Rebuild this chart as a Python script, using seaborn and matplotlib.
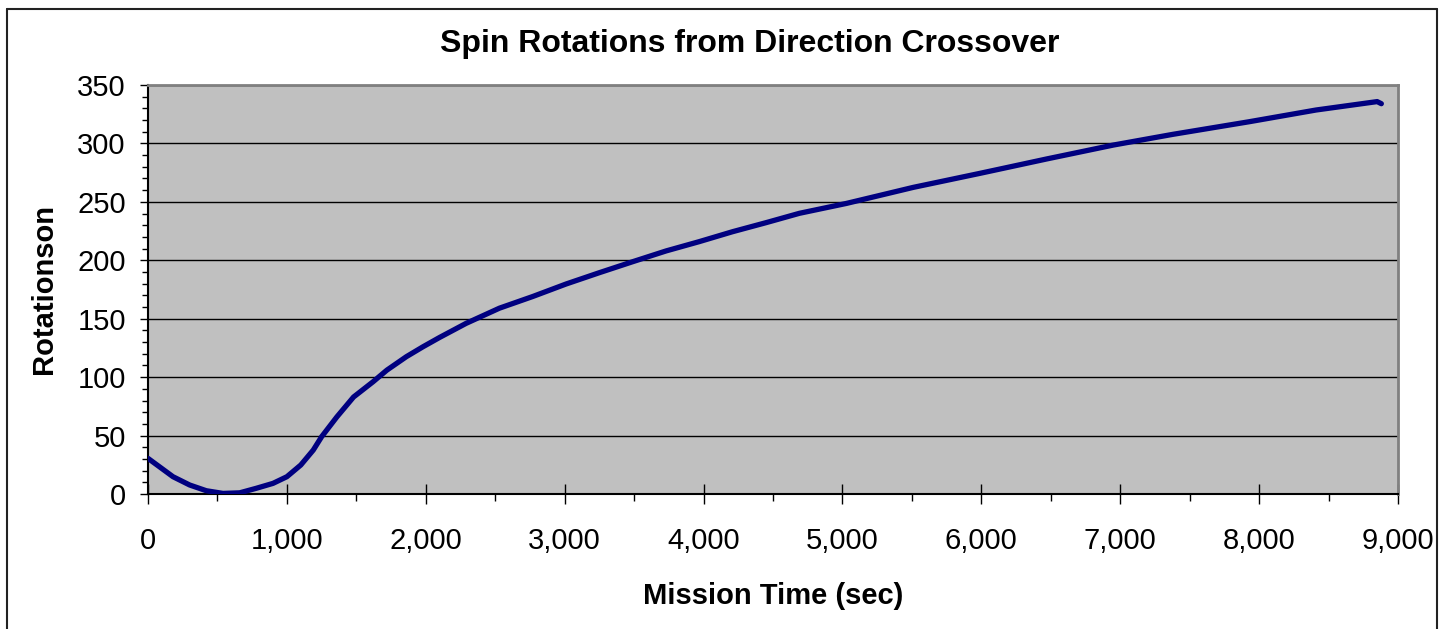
import matplotlib
matplotlib.use("Agg")
import matplotlib.pyplot as plt
from matplotlib.lines import Line2D
from matplotlib.ticker import MultipleLocator, FuncFormatter
import seaborn as sns
import pandas as pd

mission_time = [0, 180, 300, 420, 540, 660, 780, 900, 1000, 1100, 1190, 1250,
                1360, 1480, 1620, 1720, 1860, 1980, 2100, 2290, 2530, 2770,
                3010, 3250, 3490, 3730, 3970, 4210, 4450, 4690, 5030, 5510,
                5990, 6470, 6950, 7380, 7930, 8410, 8850, 8880]
rotations = [30.5, 14.8, 7.7, 2.8, 0.5, 1.0, 4.9, 9.1, 14.8, 24.8, 37.6, 49,
             66, 83, 96, 106, 117.5, 126, 134, 146, 159, 169,
             179.7, 189.4, 198.8, 208, 216, 224.5, 232.2, 240.2, 248.7, 262.4,
             274.4, 286.7, 298.6, 307.8, 318.6, 328.6, 335.8, 334.0]

title = "Spin Rotations from Direction Crossover"
xlabel = "Mission Time (sec)"
ylabel = "Rotationson"

df = pd.DataFrame({"t": mission_time, "r": rotations})

sns.set_theme(style="white")
plt.rcParams["font.family"] = ["Liberation Sans", "DejaVu Sans"]
plt.rcParams["text.color"] = "black"
plt.rcParams["axes.labelcolor"] = "black"
plt.rcParams["xtick.color"] = "black"
plt.rcParams["ytick.color"] = "black"

fig = plt.figure(figsize=(14.4, 6.29), dpi=100)
ax = fig.add_axes([148/1440, 1-494/629, 1250/1440, 409/629])
ax.set_facecolor("#C0C0C0")

sns.lineplot(data=df, x="t", y="r", ax=ax, color="#000080", linewidth=3.8,
             solid_capstyle="round", solid_joinstyle="round", zorder=3)

ax.set_xlim(0, 9000)
ax.set_ylim(0, 350)
ax.xaxis.set_major_locator(MultipleLocator(1000))
ax.xaxis.set_minor_locator(MultipleLocator(500))
ax.yaxis.set_major_locator(MultipleLocator(50))
ax.yaxis.set_minor_locator(MultipleLocator(10))
ax.xaxis.set_major_formatter(FuncFormatter(lambda v, p: f"{int(v):,}"))

ax.grid(axis="y", which="major", color="black", linewidth=1.0, zorder=1)
ax.grid(axis="x", visible=False)
ax.set_axisbelow(True)

ax.tick_params(axis="x", which="major", direction="inout", length=14, width=1,
               color="black", labelsize=21, pad=17, bottom=True, labelcolor="black")
ax.tick_params(axis="x", which="minor", direction="out", length=5, width=1,
               color="black", bottom=True)
ax.tick_params(axis="y", which="major", direction="out", length=6, width=1,
               color="black", labelsize=21, pad=10, left=True, labelcolor="black")
ax.tick_params(axis="y", which="minor", direction="out", length=4, width=1,
               color="black", left=True)

for s in ["left", "bottom"]:
    ax.spines[s].set_color("black")
    ax.spines[s].set_linewidth(1.5)
for s in ["top", "right"]:
    ax.spines[s].set_color("#808080")
    ax.spines[s].set_linewidth(2)

ax.set_xlabel(xlabel, fontsize=21, fontweight="bold", labelpad=19, color="black")
ax.set_ylabel(ylabel, fontsize=21, fontweight="bold", labelpad=14, color="black")
fig.text(750/1440, 1-44/629, title, ha="center", va="center",
         fontsize=23, fontweight="bold", color="black")

# figure border (left, top, right)
bc = "#222222"
fig.add_artist(Line2D([7/1440, 7/1440], [0, 1-9/629], transform=fig.transFigure, color=bc, lw=1.5))
fig.add_artist(Line2D([7/1440, 1437/1440], [1-9/629, 1-9/629], transform=fig.transFigure, color=bc, lw=1.5))
fig.add_artist(Line2D([1437/1440, 1437/1440], [0, 1-9/629], transform=fig.transFigure, color=bc, lw=1.5))

fig.savefig("out.png", dpi=100, facecolor="white")
